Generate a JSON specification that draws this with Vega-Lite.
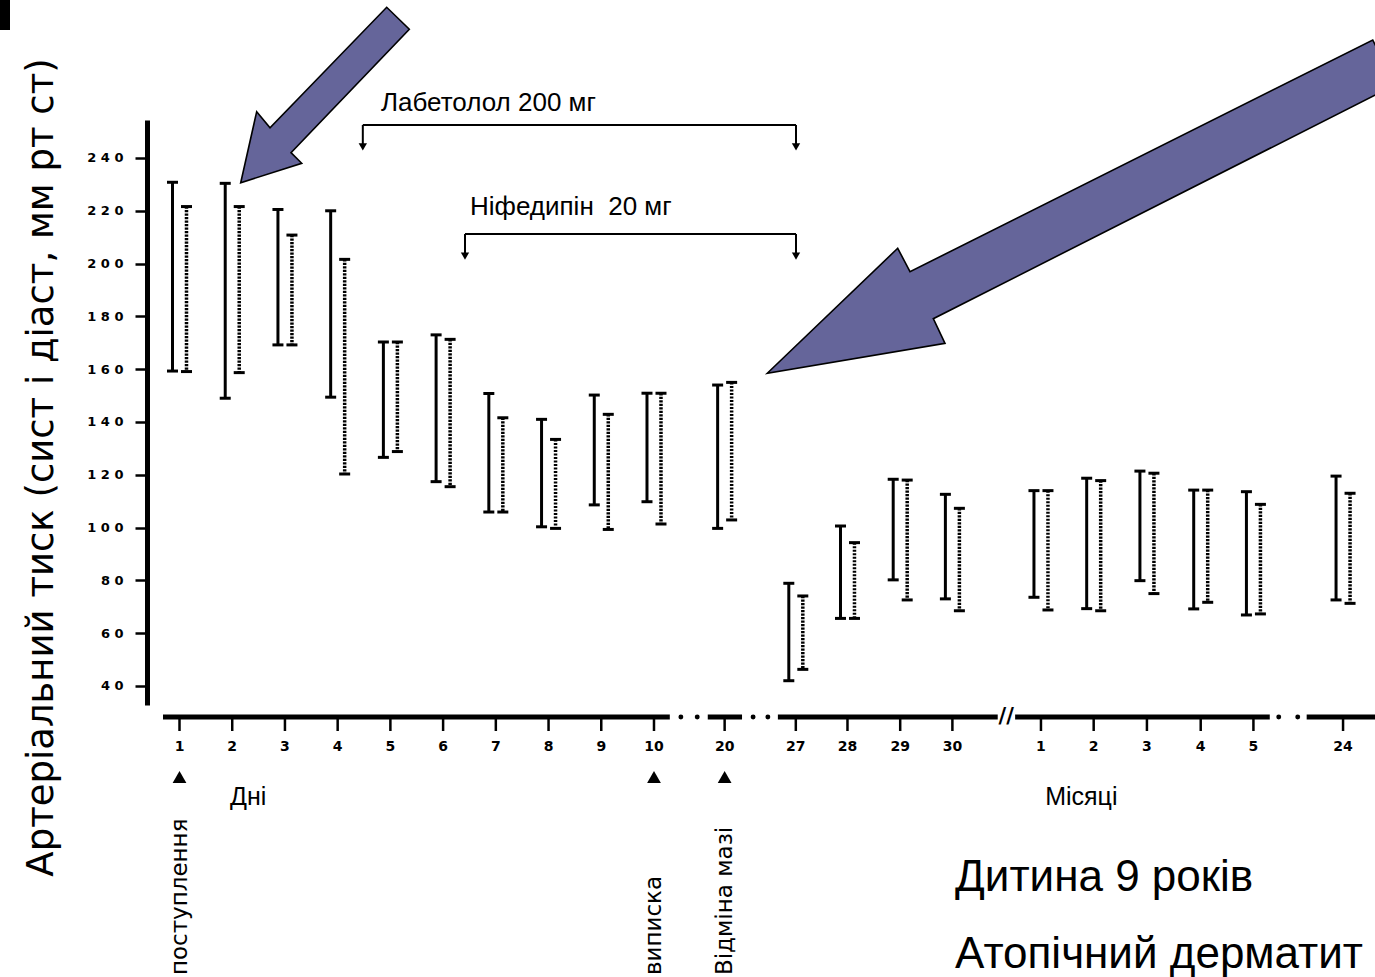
{
  "$schema": "https://vega.github.io/schema/vega-lite/v6.json",
  "width": 1228,
  "height": 585,
  "autosize": {"type": "none"},
  "padding": {"left": 147, "top": 120, "right": 0, "bottom": 272},
  "background": "white",
  "config": {
    "view": {"stroke": null},
    "axisY": {
      "grid": false,
      "orient": "left",
      "domainWidth": 5, "domainColor": "black",
      "tickColor": "black", "tickWidth": 2.5, "tickSize": 12,
      "labelFont": "DejaVu Sans", "labelFontWeight": "bold", "labelFontSize": 13, "labelColor": "black",
      "labelPadding": 12,
      "titleFont": "DejaVu Sans", "titleFontSize": 37, "titleFontWeight": "normal", "titleColor": "black",
      "titleAngle": -90, "titleAlign": "center", "titleBaseline": "alphabetic",
      "titleX": -95, "titleY": 347
    }
  },
  "datasets": {
    "bp": [
      {"t": "1", "g": "Дні", "x": 1, "s": "A", "hi": 230.8, "lo": 159.3},
      {"t": "1", "g": "Дні", "x": 1, "s": "B", "hi": 221.6, "lo": 159.1},
      {"t": "2", "g": "Дні", "x": 2, "s": "A", "hi": 230.4, "lo": 149.0},
      {"t": "2", "g": "Дні", "x": 2, "s": "B", "hi": 221.6, "lo": 158.7},
      {"t": "3", "g": "Дні", "x": 3, "s": "A", "hi": 220.5, "lo": 169.2},
      {"t": "3", "g": "Дні", "x": 3, "s": "B", "hi": 210.8, "lo": 169.2},
      {"t": "4", "g": "Дні", "x": 4, "s": "A", "hi": 220.0, "lo": 149.4},
      {"t": "4", "g": "Дні", "x": 4, "s": "B", "hi": 201.6, "lo": 120.3},
      {"t": "5", "g": "Дні", "x": 5, "s": "A", "hi": 170.3, "lo": 126.6},
      {"t": "5", "g": "Дні", "x": 5, "s": "B", "hi": 170.3, "lo": 128.8},
      {"t": "6", "g": "Дні", "x": 6, "s": "A", "hi": 173.0, "lo": 117.4},
      {"t": "6", "g": "Дні", "x": 6, "s": "B", "hi": 171.3, "lo": 115.5},
      {"t": "7", "g": "Дні", "x": 7, "s": "A", "hi": 150.8, "lo": 105.9},
      {"t": "7", "g": "Дні", "x": 7, "s": "B", "hi": 141.6, "lo": 105.9},
      {"t": "8", "g": "Дні", "x": 8, "s": "A", "hi": 141.0, "lo": 100.3},
      {"t": "8", "g": "Дні", "x": 8, "s": "B", "hi": 133.4, "lo": 99.7},
      {"t": "9", "g": "Дні", "x": 9, "s": "A", "hi": 150.2, "lo": 108.6},
      {"t": "9", "g": "Дні", "x": 9, "s": "B", "hi": 142.9, "lo": 99.3},
      {"t": "10", "g": "Дні", "x": 10, "s": "A", "hi": 150.9, "lo": 109.8},
      {"t": "10", "g": "Дні", "x": 10, "s": "B", "hi": 150.9, "lo": 101.4},
      {"t": "20", "g": "Дні", "x": 11.34, "s": "A", "hi": 154.0, "lo": 99.7},
      {"t": "20", "g": "Дні", "x": 11.34, "s": "B", "hi": 155.0, "lo": 102.9},
      {"t": "27", "g": "Дні", "x": 12.69, "s": "A", "hi": 78.9, "lo": 42.0},
      {"t": "27", "g": "Дні", "x": 12.69, "s": "B", "hi": 74.1, "lo": 46.3},
      {"t": "28", "g": "Дні", "x": 13.67, "s": "A", "hi": 100.6, "lo": 65.6},
      {"t": "28", "g": "Дні", "x": 13.67, "s": "B", "hi": 94.3, "lo": 65.6},
      {"t": "29", "g": "Дні", "x": 14.67, "s": "A", "hi": 118.3, "lo": 80.2},
      {"t": "29", "g": "Дні", "x": 14.67, "s": "B", "hi": 118.0, "lo": 72.6},
      {"t": "30", "g": "Дні", "x": 15.66, "s": "A", "hi": 112.6, "lo": 73.0},
      {"t": "30", "g": "Дні", "x": 15.66, "s": "B", "hi": 107.3, "lo": 68.5},
      {"t": "1", "g": "Місяці", "x": 17.34, "s": "A", "hi": 114.0, "lo": 73.6},
      {"t": "1", "g": "Місяці", "x": 17.34, "s": "B", "hi": 114.0, "lo": 68.8},
      {"t": "2", "g": "Місяці", "x": 18.34, "s": "A", "hi": 118.7, "lo": 69.3},
      {"t": "2", "g": "Місяці", "x": 18.34, "s": "B", "hi": 117.8, "lo": 68.5},
      {"t": "3", "g": "Місяці", "x": 19.35, "s": "A", "hi": 121.4, "lo": 79.9},
      {"t": "3", "g": "Місяці", "x": 19.35, "s": "B", "hi": 120.6, "lo": 75.0},
      {"t": "4", "g": "Місяці", "x": 20.37, "s": "A", "hi": 114.2, "lo": 69.2},
      {"t": "4", "g": "Місяці", "x": 20.37, "s": "B", "hi": 114.2, "lo": 71.7},
      {"t": "5", "g": "Місяці", "x": 21.37, "s": "A", "hi": 113.6, "lo": 66.9},
      {"t": "5", "g": "Місяці", "x": 21.37, "s": "B", "hi": 108.8, "lo": 67.3},
      {"t": "24", "g": "Місяці", "x": 23.07, "s": "A", "hi": 119.5, "lo": 72.6},
      {"t": "24", "g": "Місяці", "x": 23.07, "s": "B", "hi": 113.0, "lo": 71.3}
    ],
    "axisseg": [
      {"a": 0.687, "b": 10.30},
      {"a": 11.02, "b": 11.67},
      {"a": 12.35, "b": 16.52},
      {"a": 16.85, "b": 21.68},
      {"a": 22.38, "b": 23.9}
    ],
    "axisdot": [{"d": 10.51}, {"d": 10.82}, {"d": 11.88}, {"d": 12.16}, {"d": 21.85}, {"d": 22.21}],
    "events": [
      {"e": "поступлення", "x": 1},
      {"e": "виписка", "x": 10},
      {"e": "Відміна мазі", "x": 11.34}
    ],
    "drugs": [
      {"drug": "Лабетолол 200 мг", "from": 4.477, "to": 12.694, "level": 252.5, "tx": 4.822, "ty": 261.0},
      {"drug": "Ніфедипін \u00a020 мг", "from": 6.415, "to": 12.694, "level": 211.2, "tx": 6.51, "ty": 221.5}
    ],
    "arrows": [
      {"arrow": 1, "i": 0, "x": 2.161, "y": 230.64},
      {"arrow": 1, "i": 1, "x": 2.464, "y": 257.54},
      {"arrow": 1, "i": 2, "x": 2.717, "y": 251.48},
      {"arrow": 1, "i": 3, "x": 4.930, "y": 297.08},
      {"arrow": 1, "i": 4, "x": 5.359, "y": 288.75},
      {"arrow": 1, "i": 5, "x": 3.115, "y": 242.01},
      {"arrow": 1, "i": 6, "x": 3.318, "y": 237.99},
      {"arrow": 2, "i": 0, "x": 12.149, "y": 158.45},
      {"arrow": 2, "i": 1, "x": 14.623, "y": 205.80},
      {"arrow": 2, "i": 2, "x": 14.856, "y": 196.93},
      {"arrow": 2, "i": 3, "x": 23.633, "y": 284.70},
      {"arrow": 2, "i": 4, "x": 24.056, "y": 267.65},
      {"arrow": 2, "i": 5, "x": 15.298, "y": 179.13},
      {"arrow": 2, "i": 6, "x": 15.520, "y": 169.81}
    ],
    "labels": [
      {"txt": "Дні", "x": 1.958, "y": -2.05},
      {"txt": "Місяці", "x": 17.42, "y": -2.05}
    ],
    "notes": [
      {"txt": "Дитина 9 років", "x": 15.71, "y": -32.73},
      {"txt": "Атопічний дерматит", "x": 15.71, "y": -61.89}
    ],
    "one": [{}]
  },
  "layer": [
    {
      "data": {"name": "bp"},
      "transform": [{"filter": "datum.s == 'A'"}],
      "mark": {"type": "rule", "strokeWidth": 3, "color": "black", "xOffset": -7},
      "encoding": {
        "x": {"field": "x", "type": "quantitative", "scale": {"domain": [0.3835, 23.676], "nice": false, "zero": false}, "axis": null},
        "y": {"field": "hi", "type": "quantitative", "scale": {"domain": [32.8, 254.39], "nice": false, "zero": false},
              "axis": {"values": [40, 60, 80, 100, 120, 140, 160, 180, 200, 220, 240], "labelExpr": "join(split(datum.label, ''), ' ')", "title": "Артеріальний тиск (сист і діаст, мм рт ст)"}},
        "y2": {"field": "lo"}
      }
    },
    {
      "data": {"name": "bp"},
      "transform": [{"filter": "datum.s == 'B'"}],
      "mark": {"type": "rule", "strokeWidth": 3.5, "color": "black", "xOffset": 7, "strokeDash": [2.2, 1.3]},
      "encoding": {
        "x": {"field": "x", "type": "quantitative", "scale": {"domain": [0.3835, 23.676], "nice": false, "zero": false}, "axis": null},
        "y": {"field": "hi", "type": "quantitative", "scale": {"domain": [32.8, 254.39], "nice": false, "zero": false},
              "axis": {"values": [40, 60, 80, 100, 120, 140, 160, 180, 200, 220, 240], "labelExpr": "join(split(datum.label, ''), ' ')", "title": "Артеріальний тиск (сист і діаст, мм рт ст)"}},
        "y2": {"field": "lo"}
      }
    },
    {
      "data": {"name": "bp"},
      "transform": [{"filter": "datum.s == 'A'"}, {"fold": ["hi", "lo"], "as": ["k", "v"]}],
      "mark": {"type": "tick", "orient": "horizontal", "size": 11, "thickness": 3, "color": "black", "opacity": 1, "xOffset": -7},
      "encoding": {
        "x": {"field": "x", "type": "quantitative", "scale": {"domain": [0.3835, 23.676], "nice": false, "zero": false}, "axis": null},
        "y": {"field": "v", "type": "quantitative", "scale": {"domain": [32.8, 254.39], "nice": false, "zero": false},
              "axis": {"values": [40, 60, 80, 100, 120, 140, 160, 180, 200, 220, 240], "labelExpr": "join(split(datum.label, ''), ' ')", "title": "Артеріальний тиск (сист і діаст, мм рт ст)"}}
      }
    },
    {
      "data": {"name": "bp"},
      "transform": [{"filter": "datum.s == 'B'"}, {"fold": ["hi", "lo"], "as": ["k", "v"]}],
      "mark": {"type": "tick", "orient": "horizontal", "size": 11, "thickness": 3, "color": "black", "opacity": 1, "xOffset": 7},
      "encoding": {
        "x": {"field": "x", "type": "quantitative", "scale": {"domain": [0.3835, 23.676], "nice": false, "zero": false}, "axis": null},
        "y": {"field": "v", "type": "quantitative", "scale": {"domain": [32.8, 254.39], "nice": false, "zero": false},
              "axis": {"values": [40, 60, 80, 100, 120, 140, 160, 180, 200, 220, 240], "labelExpr": "join(split(datum.label, ''), ' ')", "title": "Артеріальний тиск (сист і діаст, мм рт ст)"}}
      }
    },
    {
      "data": {"name": "axisseg"},
      "mark": {"type": "rule", "strokeWidth": 5, "color": "black"},
      "encoding": {
        "x": {"field": "a", "type": "quantitative", "scale": {"domain": [0.3835, 23.676], "nice": false, "zero": false}, "axis": null},
        "x2": {"field": "b"},
        "y": {"datum": 28.26, "type": "quantitative", "scale": {"domain": [32.8, 254.39], "nice": false, "zero": false},
              "axis": {"values": [40, 60, 80, 100, 120, 140, 160, 180, 200, 220, 240], "labelExpr": "join(split(datum.label, ''), ' ')", "title": "Артеріальний тиск (сист і діаст, мм рт ст)"}}
      }
    },
    {
      "data": {"name": "axisdot"},
      "mark": {"type": "point", "shape": "circle", "filled": true, "size": 24, "color": "black", "opacity": 1},
      "encoding": {
        "x": {"field": "d", "type": "quantitative", "scale": {"domain": [0.3835, 23.676], "nice": false, "zero": false}, "axis": null},
        "y": {"datum": 28.26, "type": "quantitative", "scale": {"domain": [32.8, 254.39], "nice": false, "zero": false},
              "axis": {"values": [40, 60, 80, 100, 120, 140, 160, 180, 200, 220, 240], "labelExpr": "join(split(datum.label, ''), ' ')", "title": "Артеріальний тиск (сист і діаст, мм рт ст)"}}
      }
    },
    {
      "data": {"name": "bp"},
      "transform": [{"filter": "datum.s == 'A'"}],
      "mark": {"type": "rule", "strokeWidth": 2.5, "color": "black"},
      "encoding": {
        "x": {"field": "x", "type": "quantitative", "scale": {"domain": [0.3835, 23.676], "nice": false, "zero": false}, "axis": null},
        "y": {"datum": 28.26, "type": "quantitative", "scale": {"domain": [32.8, 254.39], "nice": false, "zero": false},
              "axis": {"values": [40, 60, 80, 100, 120, 140, 160, 180, 200, 220, 240], "labelExpr": "join(split(datum.label, ''), ' ')", "title": "Артеріальний тиск (сист і діаст, мм рт ст)"}},
        "y2": {"datum": 22.95}
      }
    },
    {
      "data": {"name": "bp"},
      "transform": [{"filter": "datum.s == 'A'"}],
      "mark": {"type": "text", "font": "DejaVu Sans", "fontWeight": "bold", "fontSize": 14, "color": "black", "align": "center", "baseline": "middle"},
      "encoding": {
        "x": {"field": "x", "type": "quantitative", "scale": {"domain": [0.3835, 23.676], "nice": false, "zero": false}, "axis": null},
        "y": {"datum": 16.89, "type": "quantitative", "scale": {"domain": [32.8, 254.39], "nice": false, "zero": false},
              "axis": {"values": [40, 60, 80, 100, 120, 140, 160, 180, 200, 220, 240], "labelExpr": "join(split(datum.label, ''), ' ')", "title": "Артеріальний тиск (сист і діаст, мм рт ст)"}},
        "text": {"field": "t"}
      }
    },
    {
      "data": {"name": "one"},
      "mark": {"type": "text", "font": "DejaVu Sans", "fontWeight": "bold", "fontSize": 21, "color": "black", "align": "center", "baseline": "middle", "text": "//"},
      "encoding": {
        "x": {"datum": 16.68, "type": "quantitative", "scale": {"domain": [0.3835, 23.676], "nice": false, "zero": false}, "axis": null},
        "y": {"datum": 28.26, "type": "quantitative", "scale": {"domain": [32.8, 254.39], "nice": false, "zero": false},
              "axis": {"values": [40, 60, 80, 100, 120, 140, 160, 180, 200, 220, 240], "labelExpr": "join(split(datum.label, ''), ' ')", "title": "Артеріальний тиск (сист і діаст, мм рт ст)"}}
      }
    },
    {
      "data": {"name": "events"},
      "mark": {"type": "point", "shape": "triangle-up", "filled": true, "size": 190, "color": "black", "opacity": 1},
      "encoding": {
        "x": {"field": "x", "type": "quantitative", "scale": {"domain": [0.3835, 23.676], "nice": false, "zero": false}, "axis": null},
        "y": {"datum": 5.53, "type": "quantitative", "scale": {"domain": [32.8, 254.39], "nice": false, "zero": false},
              "axis": {"values": [40, 60, 80, 100, 120, 140, 160, 180, 200, 220, 240], "labelExpr": "join(split(datum.label, ''), ' ')", "title": "Артеріальний тиск (сист і діаст, мм рт ст)"}}
      }
    },
    {
      "data": {"name": "events"},
      "mark": {"type": "text", "font": "DejaVu Sans", "fontSize": 23, "color": "black", "angle": 270, "align": "left", "baseline": "middle"},
      "encoding": {
        "x": {"field": "x", "type": "quantitative", "scale": {"domain": [0.3835, 23.676], "nice": false, "zero": false}, "axis": null},
        "y": {"datum": -69.5, "type": "quantitative", "scale": {"domain": [32.8, 254.39], "nice": false, "zero": false},
              "axis": {"values": [40, 60, 80, 100, 120, 140, 160, 180, 200, 220, 240], "labelExpr": "join(split(datum.label, ''), ' ')", "title": "Артеріальний тиск (сист і діаст, мм рт ст)"}},
        "text": {"field": "e"}
      }
    },
    {
      "data": {"name": "drugs"},
      "mark": {"type": "rule", "strokeWidth": 2, "color": "black"},
      "encoding": {
        "x": {"field": "from", "type": "quantitative", "scale": {"domain": [0.3835, 23.676], "nice": false, "zero": false}, "axis": null},
        "x2": {"field": "to"},
        "y": {"field": "level", "type": "quantitative", "scale": {"domain": [32.8, 254.39], "nice": false, "zero": false},
              "axis": {"values": [40, 60, 80, 100, 120, 140, 160, 180, 200, 220, 240], "labelExpr": "join(split(datum.label, ''), ' ')", "title": "Артеріальний тиск (сист і діаст, мм рт ст)"}}
      }
    },
    {
      "data": {"name": "drugs"},
      "transform": [{"fold": ["from", "to"], "as": ["end", "ex"]}],
      "mark": {"type": "rule", "strokeWidth": 2, "color": "black", "y2Offset": 20},
      "encoding": {
        "x": {"field": "ex", "type": "quantitative", "scale": {"domain": [0.3835, 23.676], "nice": false, "zero": false}, "axis": null},
        "y": {"field": "level", "type": "quantitative", "scale": {"domain": [32.8, 254.39], "nice": false, "zero": false},
              "axis": {"values": [40, 60, 80, 100, 120, 140, 160, 180, 200, 220, 240], "labelExpr": "join(split(datum.label, ''), ' ')", "title": "Артеріальний тиск (сист і діаст, мм рт ст)"}},
        "y2": {"field": "level"}
      }
    },
    {
      "data": {"name": "drugs"},
      "transform": [{"fold": ["from", "to"], "as": ["end", "ex"]}],
      "mark": {"type": "point", "shape": "triangle-down", "filled": true, "size": 70, "color": "black", "opacity": 1, "yOffset": 22},
      "encoding": {
        "x": {"field": "ex", "type": "quantitative", "scale": {"domain": [0.3835, 23.676], "nice": false, "zero": false}, "axis": null},
        "y": {"field": "level", "type": "quantitative", "scale": {"domain": [32.8, 254.39], "nice": false, "zero": false},
              "axis": {"values": [40, 60, 80, 100, 120, 140, 160, 180, 200, 220, 240], "labelExpr": "join(split(datum.label, ''), ' ')", "title": "Артеріальний тиск (сист і діаст, мм рт ст)"}}
      }
    },
    {
      "data": {"name": "drugs"},
      "mark": {"type": "text", "font": "Liberation Sans", "fontSize": 26, "color": "black", "align": "left", "baseline": "middle"},
      "encoding": {
        "x": {"field": "tx", "type": "quantitative", "scale": {"domain": [0.3835, 23.676], "nice": false, "zero": false}, "axis": null},
        "y": {"field": "ty", "type": "quantitative", "scale": {"domain": [32.8, 254.39], "nice": false, "zero": false},
              "axis": {"values": [40, 60, 80, 100, 120, 140, 160, 180, 200, 220, 240], "labelExpr": "join(split(datum.label, ''), ' ')", "title": "Артеріальний тиск (сист і діаст, мм рт ст)"}},
        "text": {"field": "drug"}
      }
    },
    {
      "data": {"name": "arrows"},
      "mark": {"type": "line", "interpolate": "linear-closed", "fill": "#65659a", "stroke": "black", "strokeWidth": 1.6, "strokeJoin": "miter"},
      "encoding": {
        "x": {"field": "x", "type": "quantitative", "scale": {"domain": [0.3835, 23.676], "nice": false, "zero": false}, "axis": null},
        "y": {"field": "y", "type": "quantitative", "scale": {"domain": [32.8, 254.39], "nice": false, "zero": false},
              "axis": {"values": [40, 60, 80, 100, 120, 140, 160, 180, 200, 220, 240], "labelExpr": "join(split(datum.label, ''), ' ')", "title": "Артеріальний тиск (сист і діаст, мм рт ст)"}},
        "detail": {"field": "arrow"},
        "order": {"field": "i"}
      }
    },
    {
      "data": {"name": "labels"},
      "mark": {"type": "text", "font": "Liberation Sans", "fontSize": 25, "color": "black", "align": "left", "baseline": "middle"},
      "encoding": {
        "x": {"field": "x", "type": "quantitative", "scale": {"domain": [0.3835, 23.676], "nice": false, "zero": false}, "axis": null},
        "y": {"field": "y", "type": "quantitative", "scale": {"domain": [32.8, 254.39], "nice": false, "zero": false},
              "axis": {"values": [40, 60, 80, 100, 120, 140, 160, 180, 200, 220, 240], "labelExpr": "join(split(datum.label, ''), ' ')", "title": "Артеріальний тиск (сист і діаст, мм рт ст)"}},
        "text": {"field": "txt"}
      }
    },
    {
      "data": {"name": "notes"},
      "mark": {"type": "text", "font": "Liberation Sans", "fontSize": 44, "color": "black", "align": "left", "baseline": "middle"},
      "encoding": {
        "x": {"field": "x", "type": "quantitative", "scale": {"domain": [0.3835, 23.676], "nice": false, "zero": false}, "axis": null},
        "y": {"field": "y", "type": "quantitative", "scale": {"domain": [32.8, 254.39], "nice": false, "zero": false},
              "axis": {"values": [40, 60, 80, 100, 120, 140, 160, 180, 200, 220, 240], "labelExpr": "join(split(datum.label, ''), ' ')", "title": "Артеріальний тиск (сист і діаст, мм рт ст)"}},
        "text": {"field": "txt"}
      }
    },
    {
      "data": {"name": "one"},
      "mark": {"type": "rect", "color": "black", "opacity": 1},
      "encoding": {
        "x": {"datum": -2.405, "type": "quantitative", "scale": {"domain": [0.3835, 23.676], "nice": false, "zero": false}, "axis": null},
        "x2": {"datum": -2.215},
        "y": {"datum": 299.85, "type": "quantitative", "scale": {"domain": [32.8, 254.39], "nice": false, "zero": false},
              "axis": {"values": [40, 60, 80, 100, 120, 140, 160, 180, 200, 220, 240], "labelExpr": "join(split(datum.label, ''), ' ')", "title": "Артеріальний тиск (сист і діаст, мм рт ст)"}},
        "y2": {"datum": 288.48}
      }
    }
  ]
}
